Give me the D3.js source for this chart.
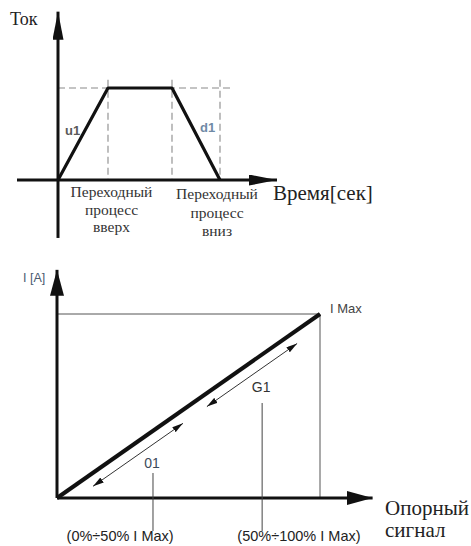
<!DOCTYPE html>
<html><head><meta charset="utf-8">
<script src="https://cdn.jsdelivr.net/npm/d3@7"></script>
<style>body{margin:0;background:#fff}svg{display:block}</style>
</head><body>
<script>
// ---- Data: top chart (ramp profile) ----
const profileTimes = [0, 1, 2.28, 3.24];        // time points of the ramp profile
const profileCurrent = [0, 1, 1, 0];            // current at those points (relative)
const rampLabels = ["u1", "d1"];
const phaseLabels = [["Переходный", "процесс", "вверх"], ["Переходный", "процесс", "вниз"]];
const phaseCenters = [1.07, 3.18];               // time at which each phase label is centred
const topAxisTitles = ["Ток", "Время[сек]"];

// ---- Data: bottom chart (reference vs current) ----
const refSignal = [0, 1];
const outCurrent = [0, 1];
const rangeCodes = ["01", "G1"];
const rangeStart = [0.137, 0.57];
const rangeEnd = [0.479, 0.913];
const rangeLeader = [0.365, 0.78];
const rangeLabels = ["(0%÷50% I Max)", "(50%÷100% I Max)"];
const rangeLabelCenters = [0.24, 0.92];
const bottomAxisTitles = ["I [A]", "I Max", ["Опорный", "сигнал"]];

const W = 471, H = 546;
const svg = d3.select("body").append("svg").attr("width", W).attr("height", H);
const defs = svg.append("defs");
function marker(id, w, h) {
  defs.append("marker").attr("id", id).attr("viewBox", `0 0 ${w} ${h}`)
    .attr("refX", w).attr("refY", h / 2).attr("markerWidth", w).attr("markerHeight", h)
    .attr("markerUnits", "userSpaceOnUse").attr("orient", "auto-start-reverse")
    .append("path").attr("d", `M0,0L${w},${h/2}L0,${h}Z`).attr("fill", "#111");
}
marker("axTop", 28, 11);
marker("axBot", 26, 14);
marker("small", 11, 6);
const serif = "'Liberation Serif','Times New Roman',serif";
const sans = "'Liberation Sans',Arial,sans-serif";

// ===== TOP CHART =====
const x1 = d3.scaleLinear().domain([0, 1]).range([58, 108]);
const y1 = d3.scaleLinear().domain([0, 1]).range([180, 88]);
const g1 = svg.append("g");
// dashed guides
const dash = {stroke: "#8a8a8a", w: 1.1, da: "7,4"};
g1.append("line").attr("x1", x1(0)).attr("x2", x1(3.5)).attr("y1", y1(1)).attr("y2", y1(1))
  .attr("stroke", dash.stroke).attr("stroke-width", dash.w).attr("stroke-dasharray", dash.da);
profileTimes.slice(1).forEach(t => {
  g1.append("line").attr("x1", x1(t)).attr("x2", x1(t)).attr("y1", y1(1.09)).attr("y2", y1(0))
    .attr("stroke", dash.stroke).attr("stroke-width", dash.w).attr("stroke-dasharray", dash.da);
});
// axes
g1.append("line").attr("x1", x1(0)).attr("x2", x1(0)).attr("y1", y1(-0.63)).attr("y2", y1(1.83))
  .attr("stroke", "#111").attr("stroke-width", 3).attr("marker-end", "url(#axTop)");
g1.append("line").attr("x1", x1(-0.82)).attr("x2", x1(4.38)).attr("y1", y1(0)).attr("y2", y1(0))
  .attr("stroke", "#111").attr("stroke-width", 3).attr("marker-end", "url(#axTop)");
// profile
const pts = profileTimes.map((t, i) => [x1(t), y1(profileCurrent[i])]);
g1.append("path").attr("d", d3.line()(pts)).attr("fill", "none")
  .attr("stroke", "#111").attr("stroke-width", 3.2).attr("stroke-linejoin", "round");
// ramp labels
g1.append("text").attr("x", x1(0.14)).attr("y", 135).text(rampLabels[0])
  .attr("font-family", sans).attr("font-weight", "bold").attr("font-size", 13).attr("fill", "#5a5a5a");
g1.append("text").attr("x", x1(2.84)).attr("y", 132).text(rampLabels[1])
  .attr("font-family", sans).attr("font-weight", "bold").attr("font-size", 13).attr("fill", "#6f8aa6");
// phase labels
phaseLabels.forEach((lines, k) => {
  lines.forEach((s, j) => {
    g1.append("text").attr("x", x1(phaseCenters[k])).attr("y", 197 + k * 2 + j * (17.5 + k))
      .attr("text-anchor", "middle").text(s)
      .attr("font-family", serif).attr("font-size", 15.5).attr("fill", "#333");
  });
});
g1.append("text").attr("x", 10).attr("y", 25).text(topAxisTitles[0])
  .attr("font-family", serif).attr("font-size", 18).attr("fill", "#222");
g1.append("text").attr("x", 273).attr("y", 200).text(topAxisTitles[1])
  .attr("font-family", serif).attr("font-size", 21).attr("fill", "#222");

// ===== BOTTOM CHART =====
const x2 = d3.scaleLinear().domain([0, 1]).range([57, 320]);
const y2 = d3.scaleLinear().domain([0, 1]).range([498, 314]);
const g2 = svg.append("g");
// max guide lines
g2.append("path").attr("d", d3.line()([[x2(0), y2(1)], [x2(1), y2(1)], [x2(1), y2(0)]]))
  .attr("fill", "none").attr("stroke", "#555").attr("stroke-width", 1);
// axes
g2.append("line").attr("x1", x2(0)).attr("x2", x2(0)).attr("y1", y2(0)).attr("y2", y2(1.24))
  .attr("stroke", "#111").attr("stroke-width", 3).attr("marker-end", "url(#axBot)");
g2.append("line").attr("x1", x2(0)).attr("x2", x2(1.2)).attr("y1", y2(0)).attr("y2", y2(0))
  .attr("stroke", "#111").attr("stroke-width", 3).attr("marker-end", "url(#axBot)");
// characteristic
g2.append("line").attr("x1", x2(refSignal[0])).attr("y1", y2(outCurrent[0]))
  .attr("x2", x2(refSignal[1])).attr("y2", y2(outCurrent[1]))
  .attr("stroke", "#111").attr("stroke-width", 4);
// range arrows, codes, leaders, labels
rangeCodes.forEach((c, i) => {
  g2.append("line").attr("x1", x2(rangeStart[i])).attr("y1", y2(rangeStart[i]) + 13.5)
    .attr("x2", x2(rangeEnd[i])).attr("y2", y2(rangeEnd[i]) + 13.5)
    .attr("stroke", "#333").attr("stroke-width", 1)
    .attr("marker-start", "url(#small)").attr("marker-end", "url(#small)");
  g2.append("line").attr("x1", x2(rangeLeader[i])).attr("x2", x2(rangeLeader[i]))
    .attr("y1", i === 0 ? 473 : 403).attr("y2", 531).attr("stroke", "#444").attr("stroke-width", 1);
  g2.append("text").attr("x", x2(rangeLeader[i]) - 1).attr("y", i === 0 ? 468 : 392)
    .attr("text-anchor", "middle").text(c)
    .attr("font-family", sans).attr("font-size", 14).attr("fill", i === 0 ? "#3c4a5a" : "#333");
  g2.append("text").attr("x", x2(rangeLabelCenters[i])).attr("y", 541)
    .attr("text-anchor", "middle").text(rangeLabels[i])
    .attr("font-family", sans).attr("font-size", 14.5).attr("fill", "#222");
});
g2.append("text").attr("x", 23).attr("y", 282).text(bottomAxisTitles[0])
  .attr("font-family", sans).attr("font-size", 12.5).attr("fill", "#4a5a70");
g2.append("text").attr("x", 330).attr("y", 313).text(bottomAxisTitles[1])
  .attr("font-family", sans).attr("font-size", 13).attr("fill", "#444");
bottomAxisTitles[2].forEach((s, j) => {
  g2.append("text").attr("x", 385).attr("y", 515 + j * 22).text(s)
    .attr("font-family", serif).attr("font-size", 21).attr("fill", "#222");
});
</script>
</body></html>
